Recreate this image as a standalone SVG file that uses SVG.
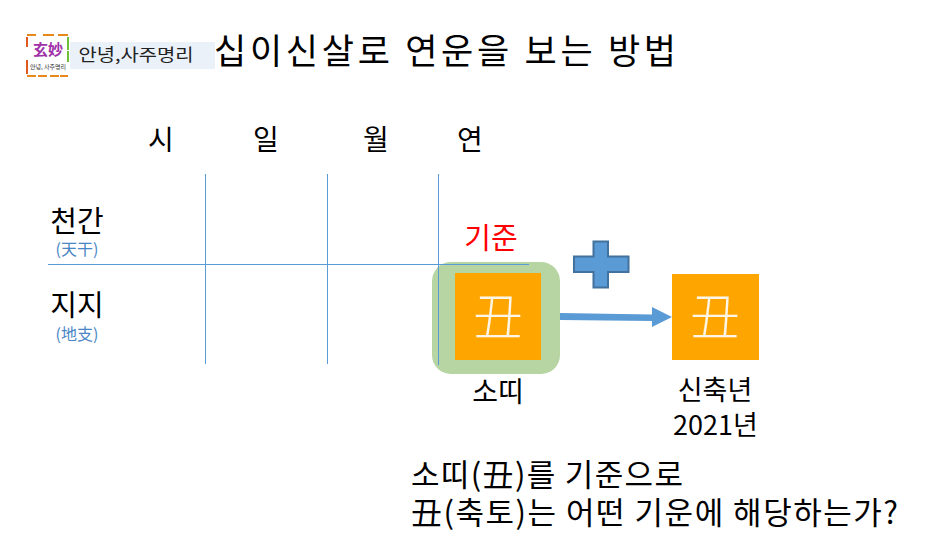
<svg xmlns="http://www.w3.org/2000/svg" width="933" height="560" viewBox="0 0 933 560">
<style>
text{font-family:"Noto Sans CJK KR","Liberation Sans",sans-serif;fill:#000;font-weight:400}
.t{font-size:28px;text-anchor:middle}
.r{font-size:29px;text-anchor:middle}
.s{font-size:16px;fill:#4a86c5;text-anchor:middle}
.l{font-size:28px;text-anchor:middle}
.n{font-size:27px;text-anchor:middle}
.g{font-size:50px;fill:#fdf6e6;text-anchor:middle;font-family:"Noto Sans CJK TC","Noto Sans CJK KR",sans-serif;font-weight:300}
.q{font-size:31px}
.line{stroke:#5b9bd5;stroke-width:1;fill:none}
.box{fill:#ffa500}
</style>
<rect width="933" height="560" fill="#fff"/>
<g id="logo">
<rect x="27" y="35" width="41" height="41" fill="#fff"/>
<path d="M27 35h9M43 35h11M58 35h10" stroke="#e8881a" stroke-width="2" fill="none"/>
<path d="M27 76h9M38 76h9M50 76h9M60 76h8" stroke="#e8881a" stroke-width="2" fill="none"/>
<path d="M68 37v13M68 51v11" stroke="#6fbf3a" stroke-width="2" fill="none"/>
<path d="M27 37v10M27 60v14" stroke="#e05a20" stroke-width="2" fill="none"/>
<text x="48" y="55" font-size="15" text-anchor="middle" style="fill:#a030a8;font-weight:700">玄妙</text>
<text x="48" y="69" font-size="6" text-anchor="middle" style="fill:#333">안녕, 사주명리</text>
</g>
<g id="subtitle">
<rect x="70" y="42" width="145" height="27" fill="#eaf1f9"/>
<text x="136" y="61" font-size="17" text-anchor="middle" textLength="115" lengthAdjust="spacingAndGlyphs" style="fill:#222">안녕,사주명리</text>
</g>
<g id="title"><text x="214" y="64" font-size="35" textLength="462">십이신살로 연운을 보는 방법</text></g>
<g id="headers">
<text class="t" x="161" y="150">시</text>
<text class="t" x="266" y="150">일</text>
<text class="t" x="376" y="150">월</text>
<text class="t" x="470" y="150">연</text>
</g>
<g id="rows">
<text class="r" x="77" y="232">천간</text>
<text class="s" x="77" y="255">(天干)</text>
<text class="r" x="77" y="316">지지</text>
<text class="s" x="77" y="340">(地支)</text>
</g>
<g id="highlight"><rect x="432" y="262" width="128" height="112" rx="19" fill="#b7d5a3"/></g>
<g id="connectors">
<path class="line" d="M48 264.500H529M205.500 174V364M327.500 174V364M438.500 174V365"/>
<path d="M560 313L652 314.500V307L672 317L652 327V321L560 320Z" fill="#5b9bd5"/>
</g>
<g id="label-gijun"><text x="491" y="249" font-size="29" text-anchor="middle" style="fill:#f00">기준</text></g>
<g id="plus"><path d="M593.500 241.500H608V256.500H628.500V272H608V287.500H593.500V272H574V256.500H593.500Z" fill="#5b9bd5" stroke="#41719c" stroke-width="2"/></g>
<g id="node-ox1">
<rect class="box" x="455" y="273" width="86" height="87"/>
<text class="g" x="498" y="335">丑</text>
<text class="l" x="498" y="402">소띠</text>
</g>
<g id="node-ox2">
<rect class="box" x="672" y="274" width="87" height="86"/>
<text class="g" x="715" y="335">丑</text>
<text class="n" x="715" y="400">신축년</text>
<text class="n" x="715.500" y="435">2021년</text>
</g>
<g id="question">
<text class="q" x="411" y="486" textLength="272">소띠(丑)를 기준으로</text>
<text class="q" x="411" y="524" textLength="487">丑(축토)는 어떤 기운에 해당하는가?</text>
</g>
</svg>
